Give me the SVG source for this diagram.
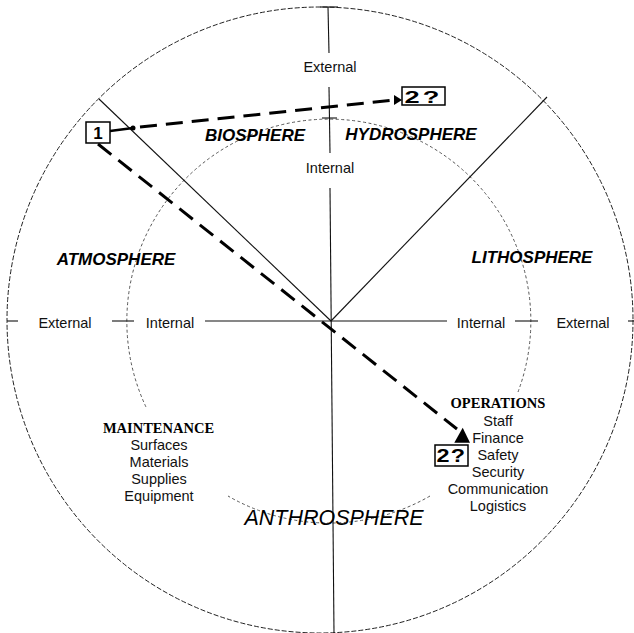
<svg xmlns="http://www.w3.org/2000/svg" width="634" height="633" viewBox="0 0 634 633">
<style>
.axis{stroke:#111;stroke-width:1.1;fill:none}
.outer{stroke:#222;stroke-width:1;fill:none;stroke-dasharray:5 2}
.inner{stroke:#444;stroke-width:0.9;fill:none;stroke-dasharray:3 2.5}
.dash{stroke:#000;stroke-width:3;fill:none;stroke-dasharray:17 9}
.lbl{font-family:"Liberation Sans",Arial,sans-serif;font-size:14.5px;fill:#111;text-anchor:middle}
.sph{font-family:"Liberation Sans",Arial,sans-serif;font-size:17px;font-weight:bold;font-style:italic;fill:#000;text-anchor:middle}
.hd{font-family:"Liberation Serif","Times New Roman",serif;font-size:14.5px;font-weight:bold;fill:#000;text-anchor:middle}
.box{fill:#fff;stroke:#000;stroke-width:1.5}
.bt{font-family:"Liberation Sans",Arial,sans-serif;font-weight:bold;fill:#000;text-anchor:middle}
</style>
<rect width="634" height="633" fill="#fff"/>
<g id="frame">
<circle class="outer" cx="320" cy="320" r="313"/>
<path class="inner" d="M518,392 A202,202 0 1 0 146,407"/>
<path class="inner" d="M430,496 A202,202 0 0 1 228,496"/>
<line class="axis" x1="320" y1="7" x2="338" y2="7"/>
<line class="axis" x1="328" y1="7" x2="329" y2="53"/>
<line class="axis" x1="329" y1="87" x2="330" y2="153"/>
<line class="axis" x1="322" y1="118" x2="337" y2="118"/>
<line class="axis" x1="330" y1="188" x2="334" y2="633"/>
<line class="axis" x1="7" y1="321" x2="18" y2="321"/>
<line class="axis" x1="112" y1="321" x2="134" y2="321"/>
<line class="axis" x1="205" y1="321" x2="447" y2="321"/>
<line class="axis" x1="515" y1="321" x2="538" y2="321"/>
<line class="axis" x1="628" y1="321" x2="634" y2="321"/>
<line class="axis" x1="99" y1="99" x2="331" y2="321"/>
<line class="axis" x1="331" y1="321" x2="547" y2="97"/>
<text class="lbl" x="330" y="72">External</text>
<text class="lbl" x="330" y="173">Internal</text>
<text class="lbl" x="65" y="328">External</text>
<text class="lbl" x="170" y="328">Internal</text>
<text class="lbl" x="481" y="328">Internal</text>
<text class="lbl" x="583" y="328">External</text>
</g>
<g id="biosphere"><text class="sph" x="255" y="141">BIOSPHERE</text></g>
<g id="hydrosphere"><text class="sph" x="411" y="140">HYDROSPHERE</text></g>
<g id="atmosphere"><text class="sph" x="116" y="265">ATMOSPHERE</text></g>
<g id="lithosphere"><text class="sph" x="532" y="263">LITHOSPHERE</text></g>
<g id="anthrosphere"><text x="334" y="525" font-family="Liberation Sans, Arial, sans-serif" font-size="21.5" font-style="italic" text-anchor="middle" fill="#000">ANTHROSPHERE</text></g>
<g id="maintenance">
<text class="hd" x="158.5" y="433">MAINTENANCE</text>
<text class="lbl" x="159" y="450">Surfaces</text>
<text class="lbl" x="159" y="467">Materials</text>
<text class="lbl" x="159" y="484">Supplies</text>
<text class="lbl" x="159" y="501">Equipment</text>
</g>
<g id="operations">
<text class="hd" x="498" y="408">OPERATIONS</text>
<text class="lbl" x="498" y="426">Staff</text>
<text class="lbl" x="498" y="443">Finance</text>
<text class="lbl" x="498" y="460">Safety</text>
<text class="lbl" x="498" y="477">Security</text>
<text class="lbl" x="498" y="494">Communication</text>
<text class="lbl" x="498" y="511">Logistics</text>
</g>
<g id="connectors">
<line x1="110" y1="131" x2="133" y2="128" stroke="#000" stroke-width="2.5"/>
<circle cx="133" cy="128" r="2.5" fill="#000"/>
<path class="dash" d="M140,127 L395,100"/>
<polygon points="394,95 402,100 394,105" fill="#000"/>
<path class="dash" d="M98,144 L457,429"/>
<polygon points="462.7,427.7 454.3,442.7 470,442.7" fill="#000"/>
</g>
<g id="box1">
<rect class="box" x="86" y="122" width="24" height="21"/>
<text class="bt" x="98" y="139" font-size="17">1</text>
</g>
<g id="box2top">
<rect class="box" x="402" y="87" width="43" height="18"/>
<text class="bt" transform="translate(423.5,103) scale(1.6,1)" x="0" y="0" font-size="17" letter-spacing="2">2?</text>
</g>
<g id="box2ops">
<rect class="box" x="435" y="445" width="33" height="21"/>
<text class="bt" transform="translate(451.5,462) scale(1.3,1)" x="0" y="0" font-size="18" letter-spacing="1">2?</text>
</g>
</svg>
